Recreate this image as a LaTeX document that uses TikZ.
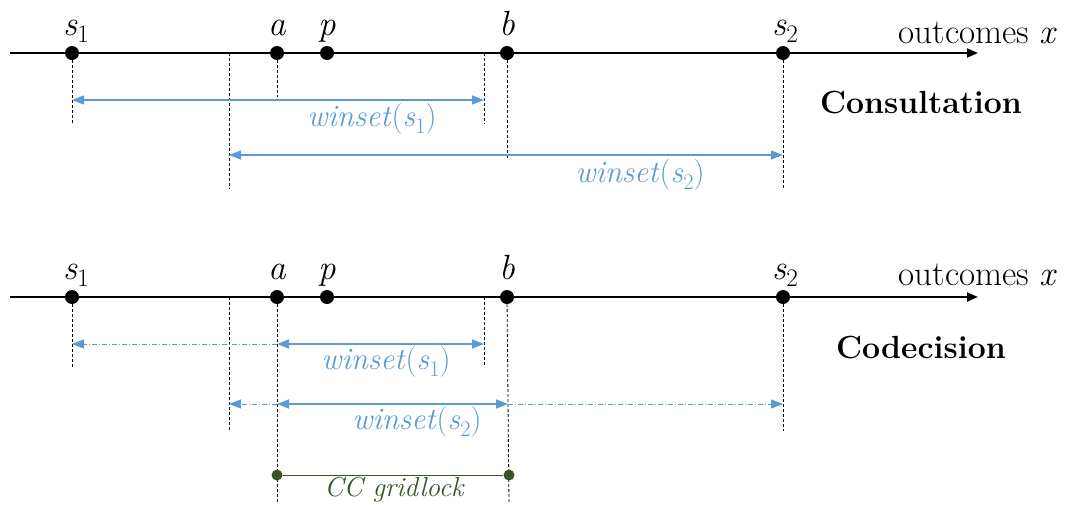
\documentclass[tikz,border=0pt]{standalone}
\usetikzlibrary{arrows.meta}
\definecolor{wblue}{HTML}{5B9BD5}
\definecolor{ggreen}{HTML}{375623}
\newcommand\mysub[1]{\raisebox{-0.22em}{\scalebox{0.72}{#1}}}
\newcommand\mv[1]{\textit{#1}}
\begin{document}
\begin{tikzpicture}[x=1pt,y=-1pt,
  axisline/.style={line width=2pt,-{Triangle[length=11pt,width=9pt]}},
  dot/.style={circle,fill=black,inner sep=0pt,minimum size=14pt},
  gdot/.style={circle,fill=ggreen,inner sep=0pt,minimum size=11pt},
  guide/.style={densely dashed,line width=0.8pt},
  wsolid/.style={wblue,line width=1.6pt},
  wdd/.style={wblue,line width=0.8pt,dash pattern=on 5pt off 2pt on 1pt off 2pt},
  whead/.style={-{Triangle[length=12pt,width=9pt]}},
  both/.style={{Triangle[length=12pt,width=9pt]}-{Triangle[length=12pt,width=9pt]}},
  tlab/.style={font=\fontsize{35}{37}\selectfont,anchor=base},
  wlab/.style={wblue,font=\fontsize{31}{33}\selectfont},
  outl/.style={font=\fontsize{35}{38}\selectfont,anchor=base east},
  title/.style={font=\fontsize{32}{34}\selectfont\bfseries}
]
\useasboundingbox (0,0) rectangle (1068,504);
% ---------- top: Consultation ----------
\coordinate (tL) at (10,53);
\coordinate (tR) at (978,53);
\draw[axisline] (tL) -- (tR);
\node[dot] (ts1) at (72,53) {};
\node[dot] (ta) at (277,53) {};
\node[dot] (tp) at (327,53) {};
\node[dot] (tb) at (507,53) {};
\node[dot] (ts2) at (783,53) {};
\node[tlab] (ts1l) at (76,35) {\mv{s}\mysub{1}};
\node[tlab] (tal) at (277,35) {\mv{a}};
\node[tlab] (tpl) at (327,35) {\mv{p}};
\node[tlab] (tbl) at (507,35) {\mv{b}};
\node[tlab] (ts2l) at (785,35) {\mv{s}\mysub{2}};
\node[outl] (tout) at (1061,43) {outcomes \mv{x}};
\node[title] (tcons) at (921,103) {Consultation};
\coordinate (tl1) at (229,53);
\coordinate (tr1) at (484,53);
\coordinate (ts1d) at (72,124);
\coordinate (tad) at (277,97);
\coordinate (tl1d) at (229,189);
\coordinate (tr1d) at (484,124);
\coordinate (tbd) at (507,158);
\coordinate (ts2d) at (783,189);
\draw[guide] (ts1) -- (ts1d);
\draw[guide] (ta) -- (tad);
\draw[guide] (tl1) -- (tl1d);
\draw[guide] (tr1) -- (tr1d);
\draw[guide] (tb) -- (tbd);
\draw[guide] (ts2) -- (ts2d);
\coordinate (tw1L) at (72,100);
\coordinate (tw1R) at (484,100);
\draw[wsolid,both] (tw1L) -- (tw1R);
\node[wlab] (tw1lab) at (372,119) {\mv{winset}(\mv{s}\mysub{1})};
\coordinate (tw2L) at (229,155);
\coordinate (tw2R) at (783,155);
\draw[wsolid,both] (tw2L) -- (tw2R);
\node[wlab] (tw2lab) at (640,175) {\mv{winset}(\mv{s}\mysub{2})};
% ---------- bottom: Codecision ----------
\coordinate (bL) at (10,297);
\coordinate (bR) at (978,297);
\draw[axisline] (bL) -- (bR);
\node[dot] (bs1) at (72,297) {};
\node[dot] (ba) at (277,297) {};
\node[dot] (bp) at (327,297) {};
\node[dot] (bb) at (507,297) {};
\node[dot] (bs2) at (783,297) {};
\node[tlab] (bs1l) at (76,279) {\mv{s}\mysub{1}};
\node[tlab] (bal) at (277,279) {\mv{a}};
\node[tlab] (bpl) at (327,279) {\mv{p}};
\node[tlab] (bbl) at (507,279) {\mv{b}};
\node[tlab] (bs2l) at (785,279) {\mv{s}\mysub{2}};
\node[outl] (bout) at (1061,285) {outcomes \mv{x}};
\node[title] (bcod) at (921,348) {Codecision};
\coordinate (bl1) at (229,297);
\coordinate (br1) at (484,297);
\coordinate (bs1d) at (72,367);
\coordinate (bl1d) at (229,431);
\coordinate (br1d) at (484,367);
\coordinate (bs2d) at (783,431);
\coordinate (bad) at (277,504);
\coordinate (bbd) at (509,504);
\draw[guide] (bs1) -- (bs1d);
\draw[guide] (bl1) -- (bl1d);
\draw[guide] (br1) -- (br1d);
\draw[guide] (bs2) -- (bs2d);
\draw[guide] (ba) -- (bad);
\draw[guide] (bb) -- (bbd);
% winset s1
\coordinate (bw1L) at (72,344);
\coordinate (bw1M) at (277,344);
\coordinate (bw1R) at (484,344);
\draw[wdd,whead] (bw1M) -- (bw1L);
\draw[wsolid,both] (bw1M) -- (bw1R);
\node[wlab] (bw1lab) at (386,362) {\mv{winset}(\mv{s}\mysub{1})};
% winset s2
\coordinate (bw2L) at (229,404);
\coordinate (bw2M) at (277,404);
\coordinate (bw2N) at (508,404);
\coordinate (bw2R) at (783,404);
\draw[wdd,whead] (bw2M) -- (bw2L);
\draw[wsolid,both] (bw2M) -- (bw2N);
\draw[wdd,whead] (bw2N) -- (bw2R);
\node[wlab] (bw2lab) at (417,422) {\mv{winset}(\mv{s}\mysub{2})};
% CC gridlock
\node[gdot] (gA) at (277,475) {};
\node[gdot] (gB) at (509,475) {};
\draw[ggreen,line width=0.9pt] (gA) -- (gB);
\node[ggreen,font=\fontsize{27.5}{29}\selectfont\itshape,anchor=base] (cc) at (394,496) {CC gridlock};
\end{tikzpicture}
\end{document}
